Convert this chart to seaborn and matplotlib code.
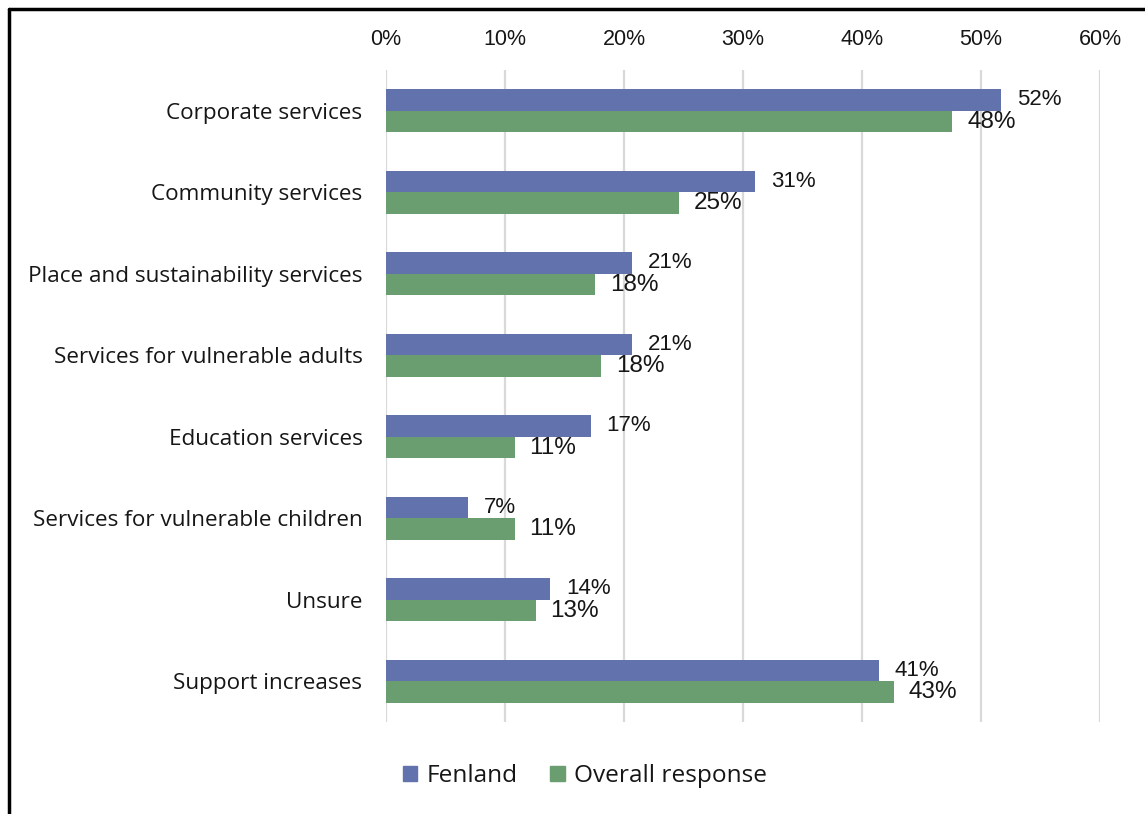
import matplotlib
matplotlib.use("Agg")
import matplotlib.pyplot as plt
import matplotlib.lines as mlines
import seaborn as sns
import pandas as pd
from matplotlib.ticker import FuncFormatter

categories = [
    "Corporate services",
    "Community services",
    "Place and sustainability services",
    "Services for vulnerable adults",
    "Education services",
    "Services for vulnerable children",
    "Unsure",
    "Support increases",
]
fenland = [51.7, 31.0, 20.7, 20.7, 17.2, 6.9, 13.8, 41.4]
overall = [47.6, 24.6, 17.6, 18.1, 10.8, 10.8, 12.6, 42.7]
series_names = ["Fenland", "Overall response"]
colors = ["#6272AC", "#6A9E70"]
x_ticks = [0, 10, 20, 30, 40, 50, 60]

df = pd.DataFrame({
    "category": categories * 2,
    "value": fenland + overall,
    "series": [series_names[0]] * len(categories) + [series_names[1]] * len(categories),
})

sns.set_theme(style="white")
label_font = ["Open Sans", "DejaVu Sans"]
num_font = ["Liberation Sans", "DejaVu Sans"]
text_color = "#161616"

fig = plt.figure(figsize=(11.45, 8.14), dpi=100)
ax = fig.add_axes([386 / 1145, 1 - 722 / 814, (1100 - 386) / 1145, (722 - 70) / 814])

sns.barplot(data=df, x="value", y="category", hue="series", orient="h",
            palette=colors, width=0.53, saturation=1, linewidth=0,
            ax=ax, legend=False)

ax.set_xlim(0, 60)
ax.set_ylim(len(categories) - 0.5, -0.5)
ax.set_xticks(x_ticks)
ax.xaxis.set_major_formatter(FuncFormatter(lambda v, _: f"{v:.0f}%"))
ax.xaxis.tick_top()
ax.tick_params(axis="x", length=0, pad=14.5, labelsize=15.5, labelcolor=text_color)
ax.tick_params(axis="y", length=0, pad=17, labelcolor=text_color)
for t in ax.get_xticklabels():
    t.set_fontfamily(num_font)
for t in ax.get_yticklabels():
    t.set_fontfamily(label_font)
    t.set_fontsize(16.2)
ax.set_xlabel("")
ax.set_ylabel("")
ax.grid(axis="x", color="#D9D9D9", linewidth=1.6)
ax.set_axisbelow(True)
for s in ax.spines.values():
    s.set_visible(False)

# value labels next to each bar
for container, size, pad in zip(ax.containers, [16, 17.5], [11.5, 10.5]):
    labels = [f"{bar.get_width():.0f}%" for bar in container]
    ax.bar_label(container, labels=labels, padding=pad, fontsize=size,
                 fontfamily=num_font, color=text_color)

handles = [plt.Rectangle((0, 0), 1, 1, color=c) for c in colors]
fig.legend(handles, series_names, loc="center", bbox_to_anchor=(585 / 1145, 1 - 776 / 814),
           ncol=2, frameon=False, prop={"family": label_font, "size": 17.6},
           labelcolor=text_color,
           handlelength=0.6, handleheight=0.6, handletextpad=0.4, columnspacing=1.3)

# frame lines along the top and left of the figure
fig.add_artist(mlines.Line2D([9 / 1145, 1], [1 - 9 / 814, 1 - 9 / 814],
                             transform=fig.transFigure, color="black", linewidth=2.5))
fig.add_artist(mlines.Line2D([9 / 1145, 9 / 1145], [0, 1 - 9 / 814],
                             transform=fig.transFigure, color="black", linewidth=2.5))

fig.savefig("out.png", dpi=100)
